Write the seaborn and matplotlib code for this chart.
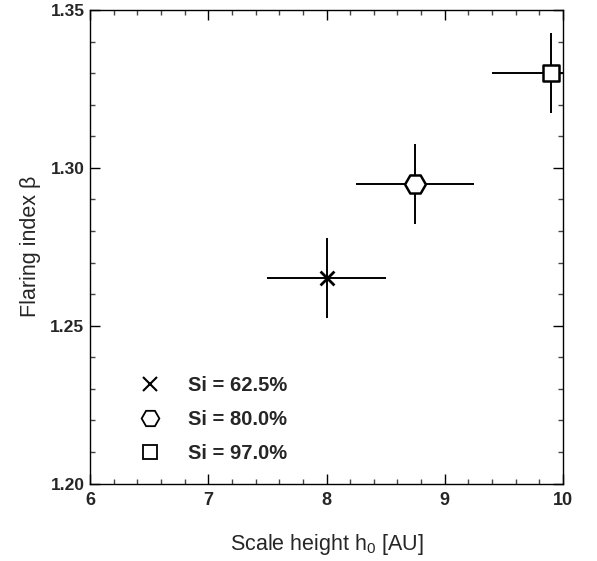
import numpy as np
import pandas as pd
import matplotlib
matplotlib.use('Agg')
import matplotlib.pyplot as plt
from matplotlib.lines import Line2D
from matplotlib.ticker import MultipleLocator, FormatStrFormatter
import seaborn as sns

# =========================
# DATA
# =========================
labels = ['Si = 62.5%', 'Si = 80.0%', 'Si = 97.0%']
scale_height = [8.0, 8.75, 9.9]
scale_height_err = [0.5, 0.5, 0.5]
flaring_index = [1.265, 1.295, 1.330]
flaring_index_err = [0.0127, 0.0127, 0.0127]
markers = ['x', 'H', 's']
marker_sizes = [10, 15, 12]

df = pd.DataFrame({'h0': scale_height, 'h0_err': scale_height_err,
                   'beta': flaring_index, 'beta_err': flaring_index_err,
                   'label': labels})

# =========================
# STYLE
# =========================
sns.set_style('ticks')
plt.rcParams['font.family'] = ['Liberation Sans', 'DejaVu Sans']
plt.rcParams['mathtext.fontset'] = 'custom'
plt.rcParams['mathtext.rm'] = 'Liberation Sans'

fig = plt.figure(figsize=(5.97, 5.61), dpi=100)
ax = fig.add_axes([0.1508, 0.1381, 0.7923, 0.8441])

# error bars
ax.errorbar(df['h0'], df['beta'], xerr=df['h0_err'], yerr=df['beta_err'],
            fmt='none', ecolor='black', elinewidth=1.4, capsize=0, zorder=2)

# markers
handles = []
for i, row in df.iterrows():
    m = markers[i]
    if m == 'x':
        sns.scatterplot(x=[row['h0']], y=[row['beta']], marker=m, s=marker_sizes[i]**2,
                        color='black', linewidth=2, ax=ax, zorder=3, legend=False)
        h = Line2D([], [], ls='none', marker=m, ms=marker_sizes[i] * 0.95, color='black', mew=1.5)
    else:
        sns.scatterplot(x=[row['h0']], y=[row['beta']], marker=m, s=marker_sizes[i]**2,
                        facecolor='white', edgecolor='black', linewidth=1.8, ax=ax,
                        zorder=3, legend=False)
        h = Line2D([], [], ls='none', marker=m, ms=marker_sizes[i] * 0.85, mfc='white',
                   mec='black', mew=1.3)
    handles.append(h)

ax.set_xlim(6, 10)
ax.set_ylim(1.20, 1.35)
ax.xaxis.set_major_locator(MultipleLocator(1))
ax.xaxis.set_minor_locator(MultipleLocator(0.2))
ax.yaxis.set_major_locator(MultipleLocator(0.05))
ax.yaxis.set_minor_locator(MultipleLocator(0.01))
ax.xaxis.set_major_formatter(FormatStrFormatter('%g'))
ax.yaxis.set_major_formatter(FormatStrFormatter('%.2f'))

ax.tick_params(which='both', direction='in', top=True, right=True, width=1.0, color='black')
ax.tick_params(which='major', length=7)
ax.tick_params(which='minor', length=3.6, color='#444444')
ax.tick_params(axis='x', which='major', pad=6, labelsize=13)
ax.tick_params(axis='y', which='major', pad=4, labelsize=12.5)
for lab in ax.get_xticklabels() + ax.get_yticklabels():
    lab.set_fontweight('bold')
for sp in ax.spines.values():
    sp.set_linewidth(1.0)
    sp.set_color('black')

ax.set_xlabel(r'Scale height h$_\mathregular{0}$ [AU]', fontsize=15.5, labelpad=17)
ax.set_ylabel('Flaring index β', fontsize=15.5, labelpad=7)

leg = ax.legend(handles, labels, loc='lower left', bbox_to_anchor=(0.106, 0.043),
                frameon=False, borderpad=0, borderaxespad=0, handlelength=1.0,
                handletextpad=1.39, labelspacing=0.75, prop={'weight': 'bold', 'size': 14.5})

fig.savefig('out.png', dpi=100)
